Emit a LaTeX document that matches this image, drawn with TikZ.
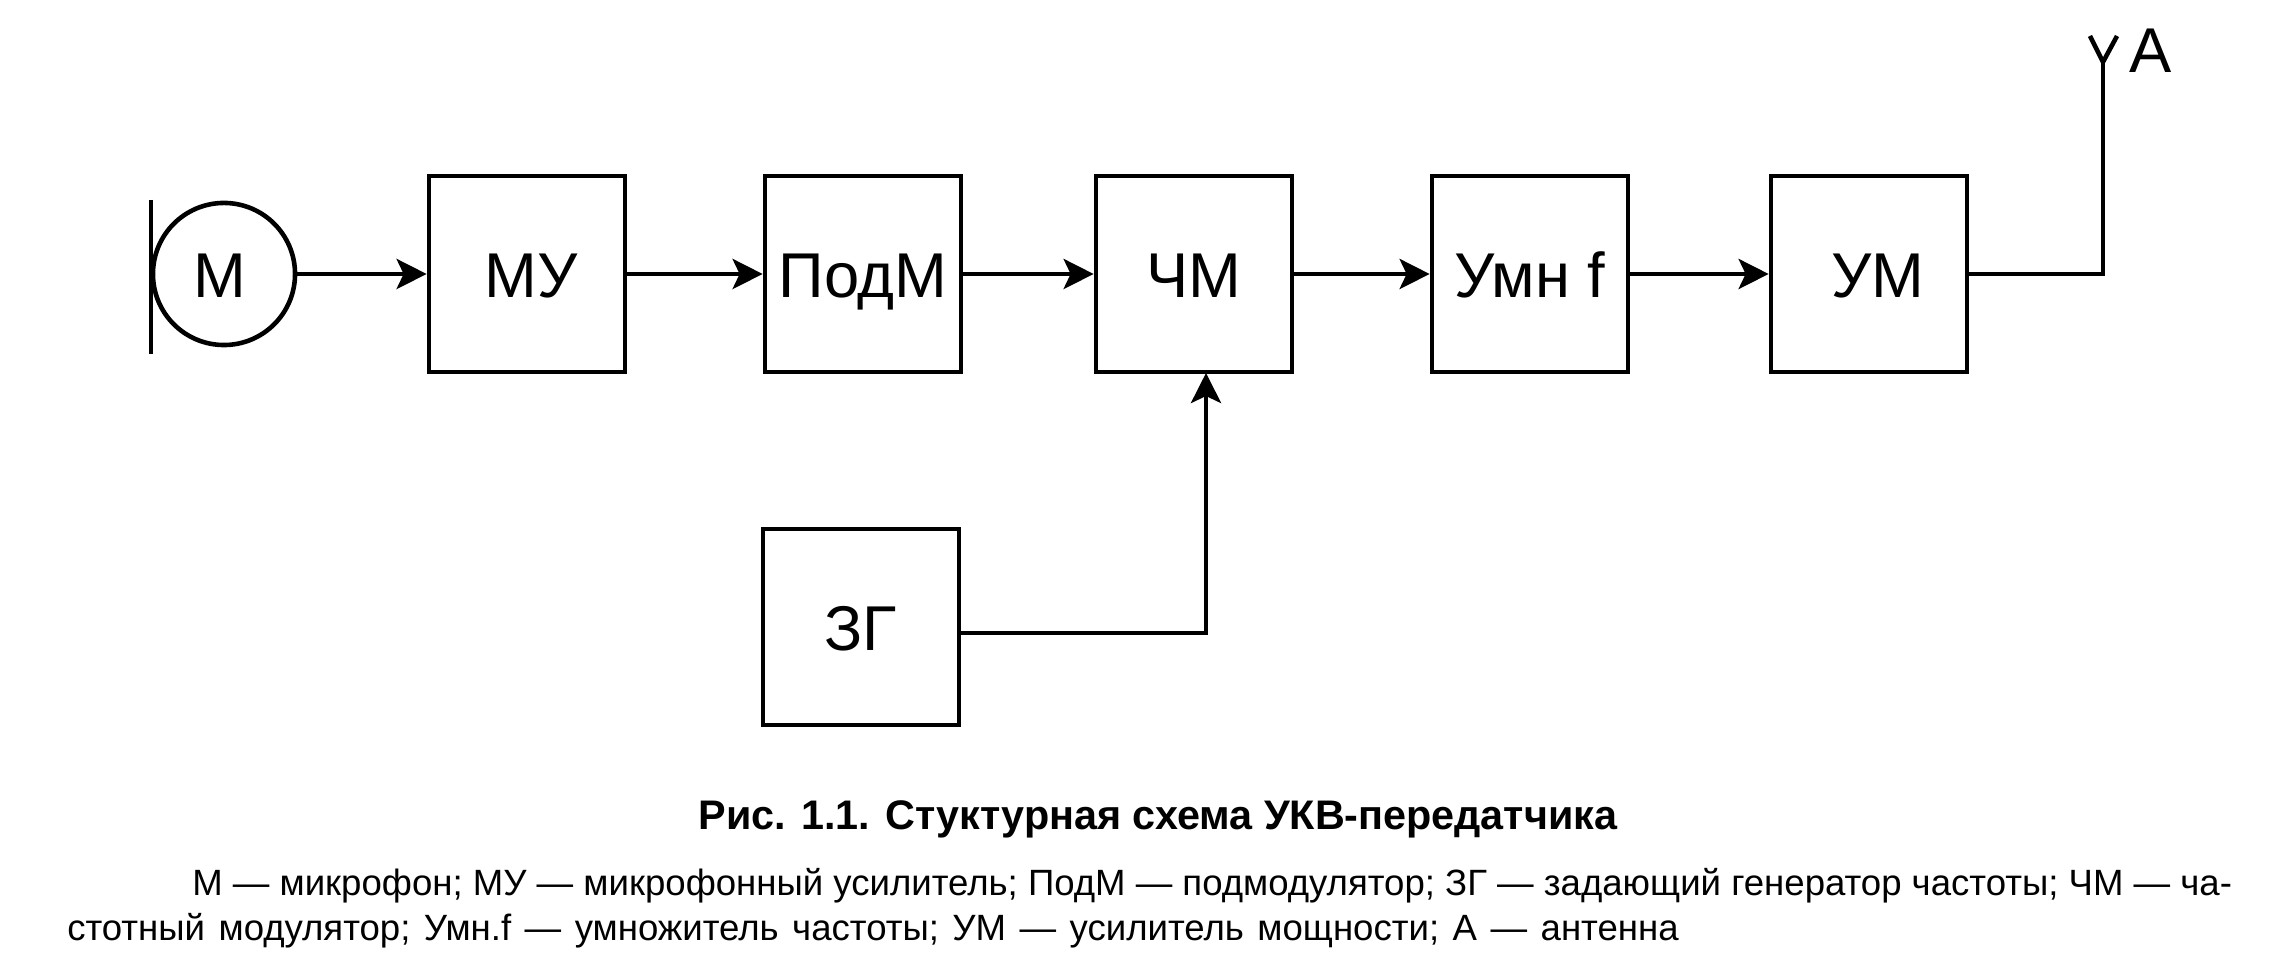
\documentclass[tikz,border=0pt]{standalone}
\usepackage{fontspec}
\setmainfont{Liberation Sans}
\usetikzlibrary{arrows.meta}

\begin{document}
\begin{tikzpicture}[x=0.01cm, y=-0.01cm, line width=1.3pt,
    block/.style={draw, minimum width=1.96cm, minimum height=1.96cm, inner sep=0pt,
      text height=0.47cm, text depth=0pt, font=\fontsize{18}{20}\selectfont},
    link/.style={-{Stealth[length=0.3cm, width=0.3cm, inset=0.07cm]}},
    note/.style={anchor=base west, inner sep=0pt, font=\fontsize{10.4}{12}\selectfont}]
    \useasboundingbox (0, 0) rectangle (2276, 965);

    \node[draw, circle, minimum size=1.42cm, inner sep=0pt, text height=0.47cm, text depth=0pt,
      font=\fontsize{18}{20}\selectfont] (mic) at (224, 274) {М\hspace*{0.08cm}};
    \coordinate (bartop) at (151, 200);
    \coordinate (barbot) at (151, 354);
    \draw[] (bartop) -- (barbot);

    \node[block] (mu) at (527, 274) {\hspace*{0.08cm}МУ};
    \node[block] (podm) at (863, 274) {ПодМ};
    \node[block] (chm) at (1194, 274) {ЧМ};
    \node[block] (umn) at (1530, 274) {Умн f};
    \node[block] (um) at (1869, 274) {\hspace*{0.18cm}УМ};
    \node[block] (zg) at (861, 627) {ЗГ};

    \draw[link] (mic) -- (mu);
    \draw[link] (mu) -- (podm);
    \draw[link] (podm) -- (chm);
    \draw[link] (chm) -- (umn);
    \draw[link] (umn) -- (um);

    \coordinate (chmin) at (1206, 373);
    \draw[link] ([yshift=-0.06cm]zg.east) -| (chmin);

    % antenna
    \coordinate (ant) at (2103, 62);
    \coordinate (antl) at (2090, 36);
    \coordinate (antr) at (2117, 36);
    \draw[] (um) -| (ant);
    \draw[] (antl) -- (ant) -- (antr);
    \node[inner sep=0pt, font=\fontsize{18}{20}\selectfont] (antlabel) at (2151, 51) {А};

    \node[inner sep=0pt, font=\fontsize{11.75}{13}\bfseries\selectfont] (caption) at (1158, 819)
      {Рис. 1.1. Стуктурная схема УКВ-передатчика};
    \node[note] (legend1) at (190, 896)
      {М — микрофон; МУ — микрофонный усилитель; ПодМ — подмодулятор; ЗГ — задающий генератор частоты; ЧМ — ча-};
    \node[note] (legend2) at (65, 941)
      {\spaceskip=0.135cm стотный модулятор; Умн.f — умножитель частоты; УМ — усилитель мощности; А — антенна};
\end{tikzpicture}
\end{document}
